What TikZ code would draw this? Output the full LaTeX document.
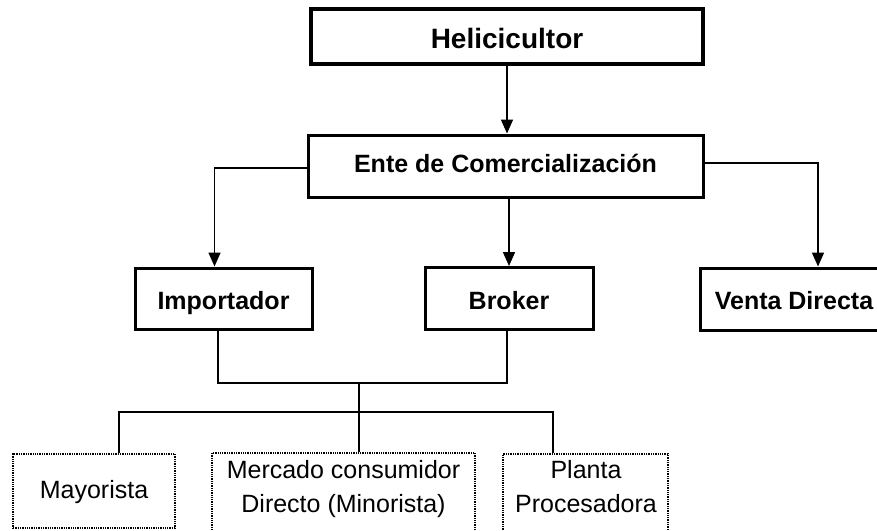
\documentclass[tikz,border=0pt]{standalone}
\usepackage{fontspec}
\setmainfont{Liberation Sans}
\usetikzlibrary{arrows.meta}
\begin{document}
\begin{tikzpicture}[x=1pt,y=-1pt,
  solidbox/.style={draw=black, line width=3pt, inner sep=0pt, text height=21pt, text depth=0pt,
                   font=\fontsize{25}{30}\selectfont\bfseries},
  dotbox/.style={draw=black, line width=1.8pt, dash pattern=on 1.3pt off 1pt, inner sep=0pt},
  lbl/.style={inner sep=0pt, align=center, font=\fontsize{25}{34}\selectfont},
  conn/.style={draw=black, line width=1.6pt},
  arr/.style={conn, -{Triangle[length=14pt,width=12pt]}}]
\useasboundingbox (0,0) rectangle (877,530);
% top level boxes
\node[solidbox, line width=3.8pt, minimum width=392pt, minimum height=55pt,
      text height=23pt, text depth=0pt,
      font=\fontsize{28}{32}\selectfont\bfseries] (heli) at (507,36.5) {Helicicultor};
\node[solidbox, minimum width=395pt, minimum height=62pt, text height=18.5pt, text depth=5.5pt]
      (ente) at (505.5,166) {Ente de Comercialización};
\node[solidbox, minimum width=177pt, minimum height=61pt] (imp) at (223.5,298.5) {Importador};
\node[solidbox, minimum width=168pt, minimum height=62pt] (brk) at (509,298.5) {Broker};
\node[solidbox, minimum width=188pt, minimum height=62pt] (venta) at (794,299) {Venta Directa};
% bottom boxes
\node[dotbox, minimum width=162pt, minimum height=74pt] (may) at (94,491) {};
\node[lbl] (maytxt) at (94,492) {Mayorista};
\node[dotbox, minimum width=263pt, minimum height=88pt] (merc) at (343.5,497) {};
\node[lbl] (merctxt) at (343.5,489.5) {Mercado consumidor\\Directo (Minorista)};
\node[dotbox, minimum width=165pt, minimum height=88pt] (plant) at (585.5,498) {};
\node[lbl] (planttxt) at (586,487) {Planta\\Procesadora};
% junctions
\coordinate (j1) at (359,383);
\coordinate (j2) at (359,412);
% connectors
\draw[arr] (heli.south) -- (heli.south |- ente.north);
\draw[arr] ([yshift=-2pt]ente.west) -| ([xshift=-9pt]imp.north);
\draw[arr] (ente.south -| brk.north) -- (brk.north);
\draw[arr] ([yshift=3pt]ente.east) -| ([xshift=24pt]venta.north);
\draw[conn] ([xshift=-5.5pt]imp.south) -- ([xshift=-5.5pt]imp.south |- j1)
            -- ([xshift=-2pt]brk.south |- j1) -- ([xshift=-2pt]brk.south);
\draw[conn] (j1) -- (j2);
\draw[conn] ([xshift=25pt]may.north) -- ([xshift=25pt]may.north |- j2)
            -- ([xshift=-32.5pt]plant.north |- j2) -- ([xshift=-32.5pt]plant.north);
\draw[conn] (j2) -- (merc.north -| j2);
\end{tikzpicture}
\end{document}
